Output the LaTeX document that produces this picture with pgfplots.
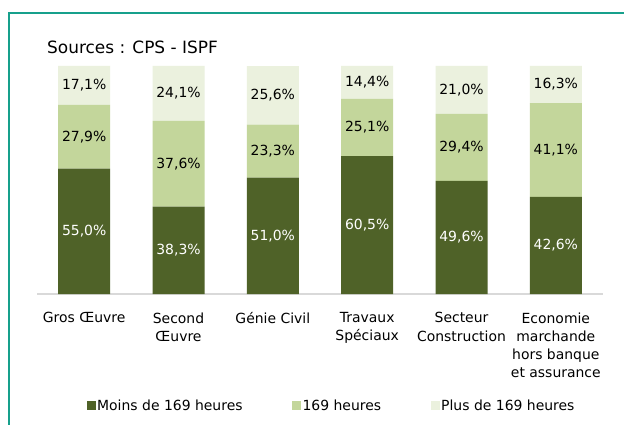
\documentclass[border=0pt]{standalone}
\usepackage{pgfplots}
\pgfplotsset{compat=1.18}
\usepackage{fontspec}
\setmainfont{DejaVu Sans}
\definecolor{dk}{HTML}{4F6228}
\definecolor{md}{HTML}{C3D69B}
\definecolor{lt}{HTML}{EBF1DE}
\definecolor{frm}{HTML}{17A08C}
\definecolor{mag}{HTML}{C0307F}
\begin{document}
\begin{tikzpicture}[x=1bp,y=1bp]
\clip (0,0) rectangle (624,424);
\fill[white] (0,0) rectangle (624,424);
\draw[frm, line width=2bp] (9,-10) -- (9,411) -- (640,411);
\node[anchor=base, text=mag, font=\bfseries\fontsize{18}{18}\selectfont] at (449,428) {g};
\node[anchor=west, inner sep=0pt, font=\fontsize{17}{20}\selectfont] at (47,377) {Sources : CPS - ISPF};
\begin{axis}[
  at={(37bp,130bp)}, anchor=south west,
  width=566bp, height=228bp, scale only axis,
  xmin=-0.5, xmax=5.5, ymin=0, ymax=100,
  ybar stacked, bar width=52bp,
  axis x line=bottom, axis y line=none,
  axis line style={-, draw=black!15, line width=1.5bp},
  xtick={0,...,5},
  xticklabels={Gros Œuvre, {Second\\Œuvre}, Génie Civil, {Travaux\\Spéciaux}, {Secteur\\Construction}, {Economie\\marchande\\hors banque\\et assurance}},
  major tick length=0pt,
  xticklabel style={align=center, font=\fontsize{14}{18.3}\selectfont, yshift=-15bp},
  clip=false,
  point meta=explicit symbolic,
  nodes near coords={\pgfplotspointmeta\%},
  every node near coord/.append style={anchor=center, font=\fontsize{14}{16}\selectfont},
  legend columns=3,
  legend style={draw=none, fill=none, at={(0.52,-0.491)}, anchor=center,
    font=\fontsize{14}{16}\selectfont, nodes={inner sep=1.5bp},
    /tikz/every even column/.append style={column sep=48bp}},
  legend image code/.code={\fill[#1,draw=none] (0bp,-4.5bp) rectangle (9bp,4.5bp);},
]
\addplot[fill=dk, draw=none, every node near coord/.append style={text=white}] table[x=x, y=v, meta=lab] {
x v lab
0 55.0 55,0
1 38.3 38,3
2 51.0 51,0
3 60.5 60,5
4 49.6 49,6
5 42.6 42,6
};
\addlegendentry{Moins de 169 heures}
\addplot[fill=md, draw=none, every node near coord/.append style={text=black}] table[x=x, y=v, meta=lab] {
x v lab
0 27.9 27,9
1 37.6 37,6
2 23.3 23,3
3 25.1 25,1
4 29.4 29,4
5 41.1 41,1
};
\addlegendentry{169 heures}
\addplot[fill=lt, draw=none, every node near coord/.append style={text=black}] table[x=x, y=v, meta=lab] {
x v lab
0 17.1 17,1
1 24.1 24,1
2 25.6 25,6
3 14.4 14,4
4 21.0 21,0
5 16.3 16,3
};
\addlegendentry{Plus de 169 heures}
\end{axis}
\end{tikzpicture}
\end{document}
